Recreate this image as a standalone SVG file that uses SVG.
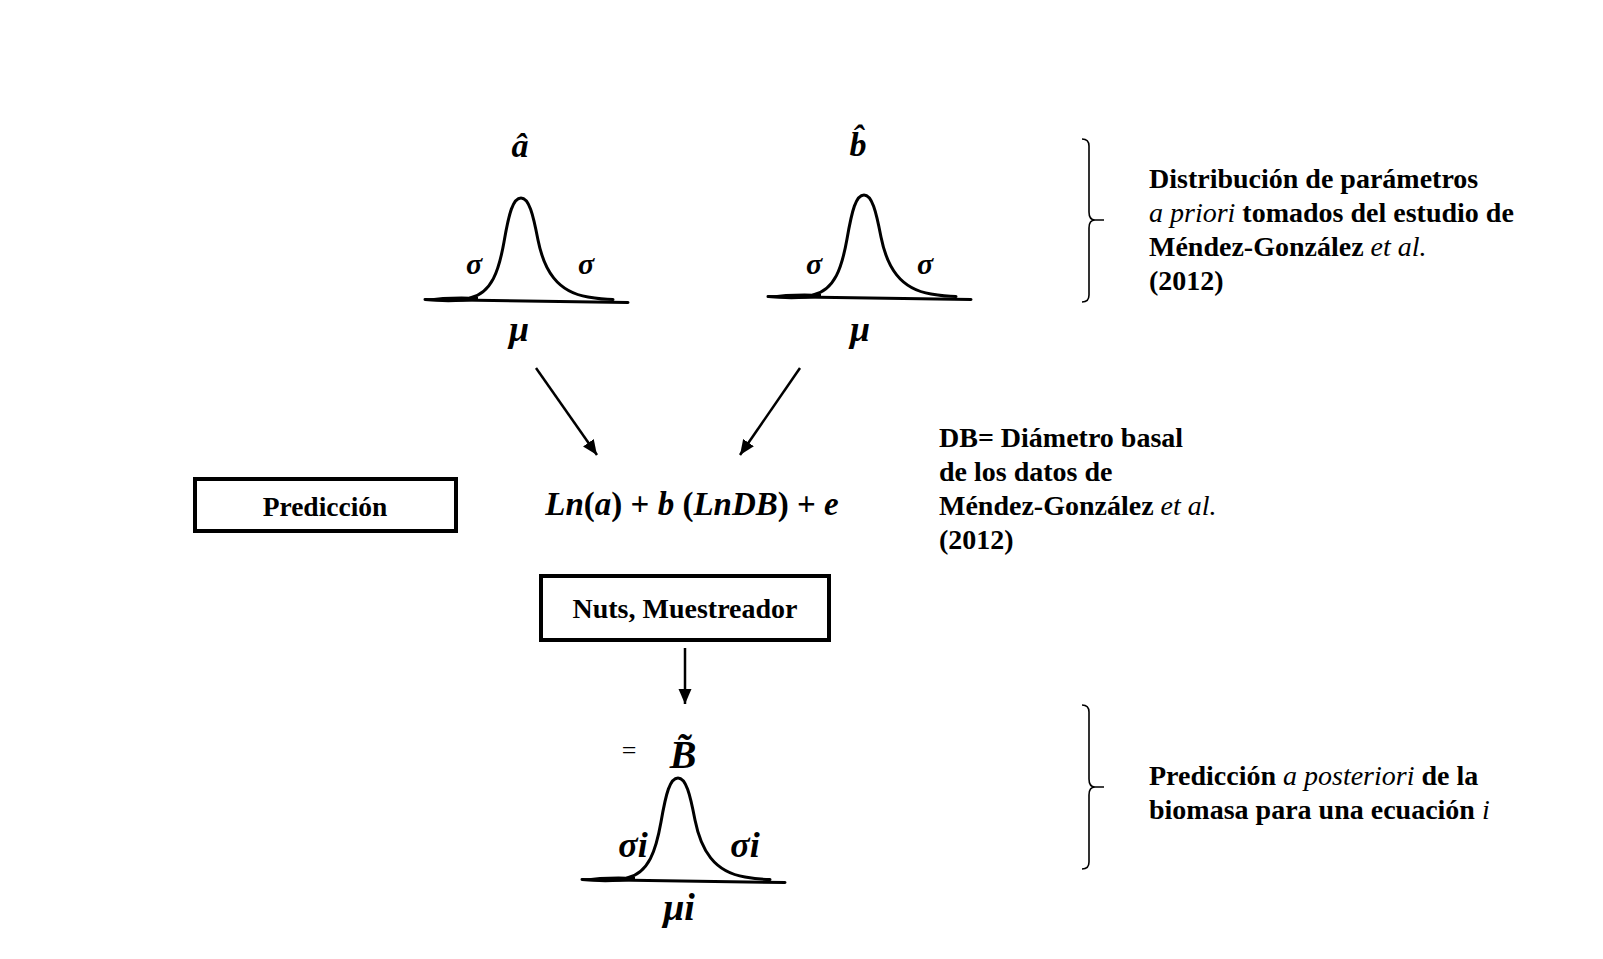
<svg xmlns="http://www.w3.org/2000/svg" width="1603" height="959" viewBox="0 0 1603 959">
<style>
  .t { font-family: "Liberation Serif", "Times New Roman", serif; fill: #000; }
  .b { font-weight: bold; }
  .i { font-style: italic; }
  .n { font-weight: normal; }
  .box { fill: #fff; stroke: #000; stroke-width: 4; }
  .curve { fill: none; stroke: #000; stroke-width: 3; stroke-linecap: round; }
  .brace { fill: none; stroke: #000; stroke-width: 1.6; }
  .conn { fill: none; stroke: #000; stroke-width: 2.5; }
</style>
<defs>
  <marker id="ah" markerUnits="userSpaceOnUse" markerWidth="18" markerHeight="14" refX="15" refY="6.5" orient="auto">
    <path d="M0,0 L15,6.5 L0,13 Z" fill="#000"/>
  </marker>
  <g id="bell">
    <path class="curve" d="M 425 299.5 L 628 302.5" stroke-width="2.5"/>
    <path d="M 425 299 Q 450 295.5 478 297 L 478 300.5 Q 450 303.5 425 301 Z" fill="#000"/>
    <path class="curve" d="M 470 298 C 492 293, 499 270, 504 242 C 509 213, 513 198, 521 198 C 529 198, 533 214, 538 240 C 544 270, 557 292, 588 297 Q 602 299.5, 613 299.5"/>
  </g>
</defs>
<rect width="1603" height="959" fill="#fff"/>

<g id="node-a">
  <use href="#bell"/>
  <text class="t b i" x="520" y="157" font-size="34" text-anchor="middle">â</text>
  <text class="t b i" x="474" y="274" font-size="30" text-anchor="middle">σ</text>
  <text class="t b i" x="586" y="274" font-size="30" text-anchor="middle">σ</text>
  <text class="t b i" x="519" y="341" font-size="36" text-anchor="middle">μ</text>
</g>

<g id="node-b">
  <use href="#bell" transform="translate(343,-3)"/>
  <text class="t b i" x="858" y="156" font-size="34" text-anchor="middle">b̂</text>
  <text class="t b i" x="814" y="274" font-size="30" text-anchor="middle">σ</text>
  <text class="t b i" x="925" y="274" font-size="30" text-anchor="middle">σ</text>
  <text class="t b i" x="860" y="341" font-size="36" text-anchor="middle">μ</text>
</g>

<g id="node-pred">
  <rect class="box" x="195" y="479" width="261" height="52"/>
  <text class="t b" x="325" y="516" font-size="27.5" text-anchor="middle">Predicción</text>
</g>

<g id="node-formula">
  <text class="t b" x="692" y="515" font-size="33" text-anchor="middle"><tspan class="i">Ln</tspan>(<tspan class="i">a</tspan>) + <tspan class="i">b</tspan> (<tspan class="i">LnDB</tspan>) + <tspan class="i">e</tspan></text>
</g>

<g id="node-nuts">
  <rect class="box" x="541" y="576" width="288" height="64"/>
  <text class="t b" x="685" y="618" font-size="28" text-anchor="middle">Nuts, Muestreador</text>
</g>

<g id="node-B">
  <use href="#bell" transform="translate(157,580)"/>
  <text class="t" x="629" y="759" font-size="26" text-anchor="middle">=</text>
  <text class="t b i" x="683" y="768" font-size="40" text-anchor="middle">B̃</text>
  <text class="t b i" x="633" y="857" font-size="36" text-anchor="middle">σi</text>
  <text class="t b i" x="745" y="857" font-size="36" text-anchor="middle">σi</text>
  <text class="t b i" x="679" y="920" font-size="38" text-anchor="middle">μi</text>
</g>

<g id="connectors">
  <line class="conn" x1="536" y1="368" x2="597" y2="455" marker-end="url(#ah)"/>
  <line class="conn" x1="800" y1="368" x2="740" y2="455" marker-end="url(#ah)"/>
  <line class="conn" x1="685" y1="648" x2="685" y2="704" marker-end="url(#ah)"/>
</g>

<g id="note-prior">
  <path class="brace" d="M 1082 139 Q 1089 139 1089 146 L 1089 212 Q 1089 220 1095 220 L 1104 220 M 1095 220 Q 1089 220 1089 228 L 1089 295 Q 1089 302 1082 302"/>
  <text class="t b" font-size="28">
    <tspan x="1149" y="188">Distribución de parámetros</tspan>
    <tspan x="1149" y="222"><tspan class="i n">a priori</tspan> tomados del estudio de</tspan>
    <tspan x="1149" y="256">Méndez-González <tspan class="i n">et al.</tspan></tspan>
    <tspan x="1149" y="290">(2012)</tspan>
  </text>
</g>

<g id="note-db">
  <text class="t b" font-size="28">
    <tspan x="939" y="447">DB= Diámetro basal</tspan>
    <tspan x="939" y="481">de los datos de</tspan>
    <tspan x="939" y="515">Méndez-González <tspan class="i n">et al.</tspan></tspan>
    <tspan x="939" y="549">(2012)</tspan>
  </text>
</g>

<g id="note-post">
  <path class="brace" d="M 1082 705 Q 1089 705 1089 712 L 1089 779 Q 1089 787 1095 787 L 1104 787 M 1095 787 Q 1089 787 1089 795 L 1089 862 Q 1089 869 1082 869"/>
  <text class="t b" font-size="28">
    <tspan x="1149" y="785">Predicción <tspan class="i n">a posteriori</tspan> de la</tspan>
    <tspan x="1149" y="819">biomasa para una ecuación <tspan class="i n">i</tspan></tspan>
  </text>
</g>
</svg>
